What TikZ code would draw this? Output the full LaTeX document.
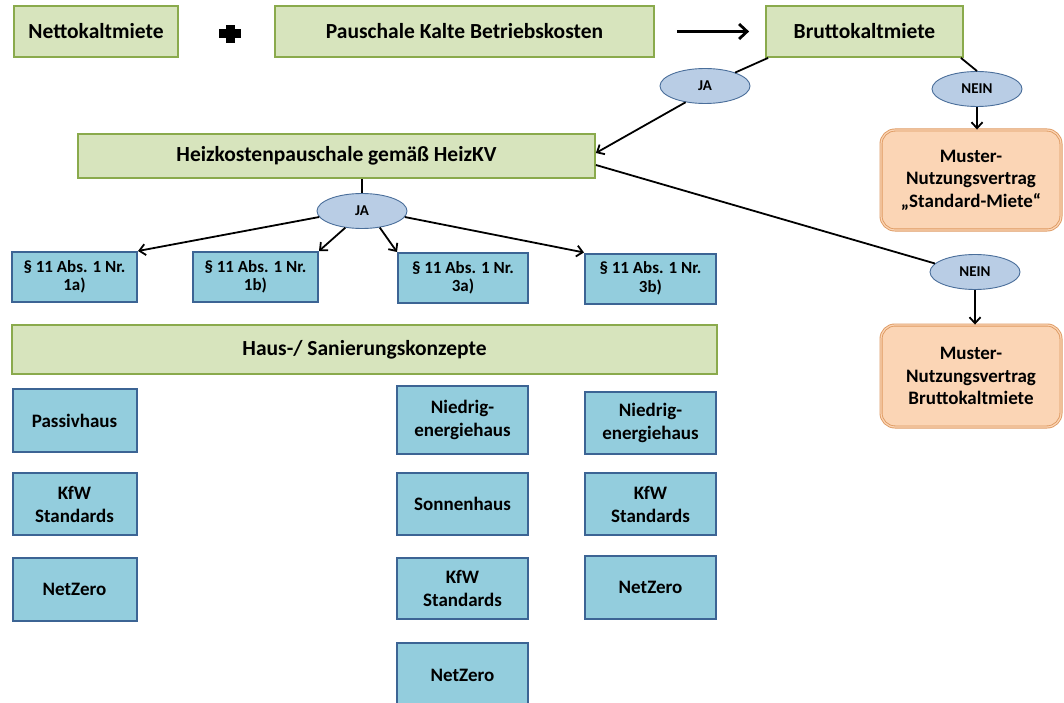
\documentclass[tikz,border=0pt]{standalone}
\usepackage{xcolor}
\usepackage{fontspec}
\setmainfont{Carlito}
\usetikzlibrary{shapes.geometric, arrows.meta}

\definecolor{boxgreen}{HTML}{D7E4BD}
\definecolor{linegreen}{HTML}{8AAA4C}
\definecolor{boxblue}{HTML}{93CDDD}
\definecolor{lineblue}{HTML}{3C6494}
\definecolor{ovalblue}{HTML}{B9CDE5}
\definecolor{ovalline}{HTML}{4A6E9A}
\definecolor{boxorange}{HTML}{FBD5B5}
\definecolor{lineorange}{HTML}{DE9A62}

\begin{document}
\begin{tikzpicture}[x=1pt, y=-1pt, >={Straight Barb[length=6pt, width=11pt]},
  kopf/.style={draw=linegreen, line width=1.8pt, fill=boxgreen, inner sep=0pt,
    minimum height=51pt, font=\bfseries\fontsize{21.5}{25}\selectfont},
  konzept/.style={draw=lineblue, line width=2pt, fill=boxblue, inner sep=0pt,
    minimum width=131pt, align=center, font=\bfseries\fontsize{19}{23}\selectfont},
  para/.style={konzept, minimum height=50pt, font=\bfseries\fontsize{17}{18.5}\selectfont},
  frage/.style={ellipse, draw=ovalline, line width=0.9pt, fill=ovalblue, inner sep=0pt,
    minimum width=90pt, minimum height=35pt, font=\bfseries\fontsize{15}{17}\selectfont},
  vertrag/.style={draw=lineorange, double=boxorange, double distance=1.2pt, line width=0.9pt,
    fill=boxorange, rounded corners=14pt, inner sep=0pt, minimum width=180pt,
    align=center, font=\bfseries\fontsize{19}{22.5}\selectfont},
  linie/.style={line width=1.8pt},
  pfeil/.style={->, line width=1.8pt}]

\useasboundingbox (0,0) rectangle (1064,703);
%\draw[help lines, step=50] (0,0) grid (1064,703);

\node[kopf, minimum width=164pt] (netto) at (96,31.5) {Nettokaltmiete};
\node[kopf, minimum width=379pt] (pausch) at (464.5,31.5) {Pauschale Kalte Betriebskosten};
\node[kopf, minimum width=197pt] (brutto) at (864.5,31.5) {Bruttokaltmiete};

\fill (219,29.5) rectangle (241,38.5);
\fill (225.5,25) rectangle (234.5,43);
\draw[->, line width=2.8pt, >={Straight Barb[length=8pt, width=15pt]}] ([xshift=22pt]pausch.east) -- ([xshift=-16pt]brutto.west);

\node[frage] (ja1) at (705,86) {JA};
\node[frage] (nein1) at (977,89) {NEIN};
\node[vertrag, minimum height=100pt] (muster1) at (971,180) {Muster-\\Nutzungsvertrag\\„Standard-Miete“};

\node[kopf, minimum width=517pt, minimum height=44pt] (heiz) at (336.5,156) {Heizkostenpauschale gemäß HeizKV};

\draw[linie] ([xshift=3pt]brutto.south west) -- (ja1);
\draw[pfeil] (ja1.220) -- ([yshift=3pt]heiz.east);
\draw[linie] ([xshift=-3pt]brutto.south east) -- (nein1.north);
\draw[pfeil] (nein1.south) -- (nein1.south |- muster1.north);

\node[frage] (ja2) at (362,211) {JA};
\draw[linie] (ja2.north |- heiz.south) -- (ja2.north);

\node[para, minimum width=125pt] (p1a) at (74.5,277) {§ 11 Abs. 1 Nr.\\1a)};
\node[para, minimum width=125pt] (p1b) at (255.5,277) {§ 11 Abs. 1 Nr.\\1b)};
\node[para, minimum width=130pt] (p3a) at (463,278) {§ 11 Abs. 1 Nr.\\3a)};
\node[para, minimum width=131pt] (p3b) at (650.5,278.5) {§ 11 Abs. 1 Nr.\\3b)};

\draw[pfeil] (ja2.188) -- (p1a.north east);
\draw[pfeil] (ja2.225) -- (p1b.north east);
\draw[pfeil] (ja2.317) -- (p3a.north west);
\draw[pfeil] (ja2.352) -- (p3b.north west);

\node[frage] (nein2) at (975,272) {NEIN};
\node[vertrag, minimum height=102pt] (muster2) at (971,376) {Muster-\\Nutzungsvertrag\\Bruttokaltmiete};
\draw[linie] ([yshift=-9pt]heiz.east) -- (nein2.168);
\draw[pfeil] (nein2.south) -- (nein2.south |- muster2.north);

\node[kopf, minimum width=705pt, minimum height=49pt] (haus) at (364.5,349.5) {Haus-/ Sanierungskonzepte};

% linke Spalte
\node[konzept, minimum width=124pt, minimum height=63pt] (passiv) at (74.5,420.5) {Passivhaus};
\node[konzept, minimum width=124pt, minimum height=62pt] (kfwa) at (74.5,504) {KfW\\Standards};
\node[konzept, minimum width=124pt, minimum height=63pt] (netza) at (74.5,589.5) {NetZero};

% mittlere Spalte
\node[konzept, minimum height=68pt] (niedb) at (462.5,420) {Niedrig-\\energiehaus};
\node[konzept, minimum height=62pt] (sonne) at (462.5,504) {Sonnenhaus};
\node[konzept, minimum height=61pt] (kfwb) at (462.5,588.5) {KfW\\Standards};
\node[konzept, minimum height=65pt] (netzb) at (462.5,675.5) {NetZero};

% rechte Spalte
\node[konzept, minimum height=62pt] (niedc) at (650.5,423) {Niedrig-\\energiehaus};
\node[konzept, minimum height=62pt] (kfwc) at (650.5,504) {KfW\\Standards};
\node[konzept, minimum height=63pt] (netzc) at (650.5,587.5) {NetZero};

\end{tikzpicture}
\end{document}
